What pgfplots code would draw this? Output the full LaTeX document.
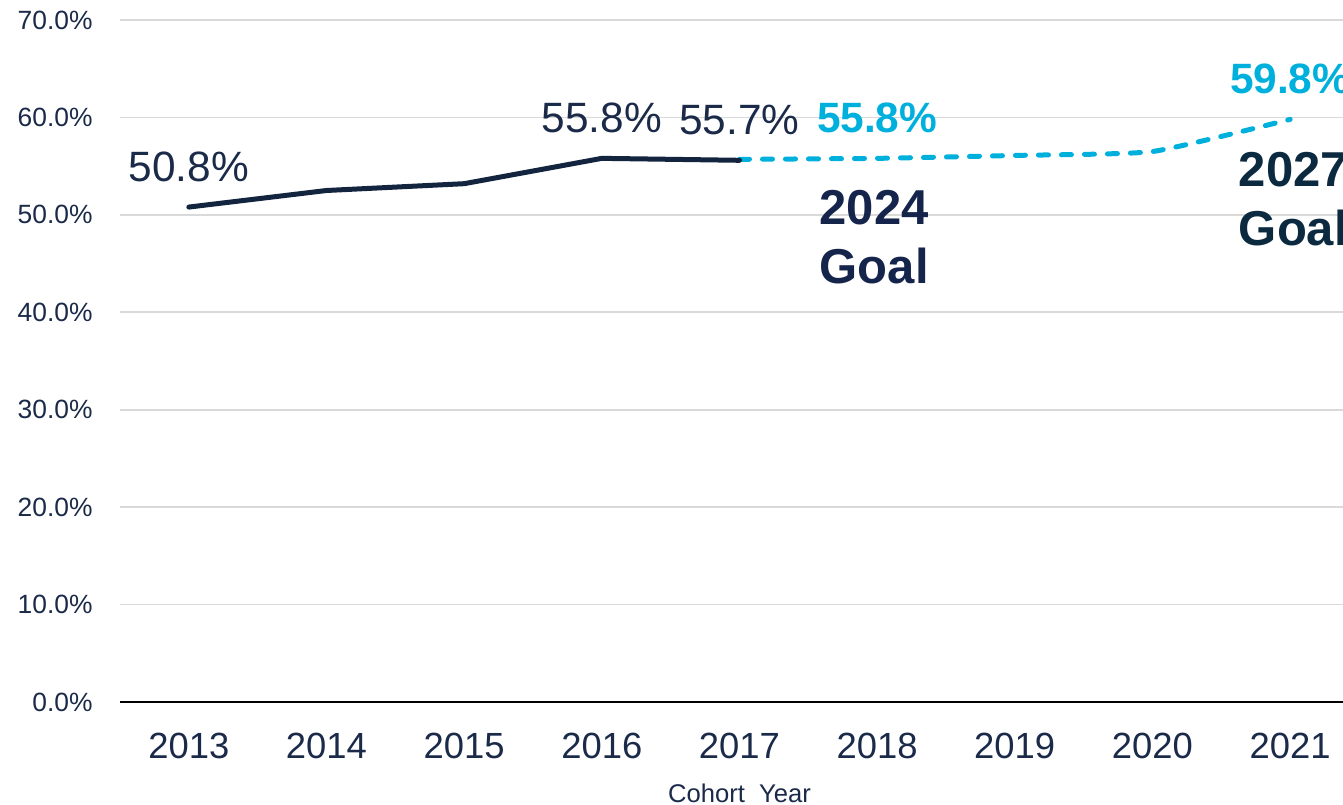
\documentclass[border=0pt]{standalone}
\usepackage{pgfplots}
\pgfplotsset{compat=1.18}
\usepackage{fontspec}
\setmainfont{Liberation Sans}
\definecolor{navy}{HTML}{13243F}
\definecolor{navytext}{HTML}{1A2A48}
\definecolor{goalA}{HTML}{15244A}
\definecolor{goalB}{HTML}{0C2A3F}
\definecolor{cyanl}{HTML}{00B0DC}
\definecolor{gridc}{HTML}{D9D9D9}
\begin{document}
\begin{tikzpicture}
\begin{axis}[
  scale only axis,
  width=619.5pt, height=341pt,
  xmin=2012.5, xmax=2021.5,
  ymin=0, ymax=70,
  xtick={2013,...,2021},
  xticklabels={2013,2014,2015,2016,2017,2018,2019,2020,2021},
  ytick={0,10,20,30,40,50,60,70},
  yticklabels={0.0\%,10.0\%,20.0\%,30.0\%,40.0\%,50.0\%,60.0\%,70.0\%},
  major tick length=0pt,
  axis x line*=bottom, axis y line*=left,
  y axis line style={draw=none},
  x axis line style={black, line width=1.25pt, -},
  ymajorgrids,
  grid style={gridc, line width=0.9pt},
  yticklabel style={anchor=east, inner sep=0pt, xshift=-13.5pt, text=navytext, font=\fontsize{13.2}{15}\selectfont},
  xticklabel style={anchor=north, inner sep=0pt, yshift=-15.5pt, text=navytext, font=\fontsize{18.2}{21}\selectfont},
  xlabel={Cohort\ \ Year},
  xlabel style={at={(axis description cs:0.5,0)}, anchor=center, yshift=-45.5pt, inner sep=0pt, text=navytext, font=\fontsize{12.8}{15}\selectfont},
  clip=false,
  point meta=explicit symbolic,
]
\addplot[cyanl, line width=2.5pt, line cap=round, dash pattern=on 5pt off 6.5pt, smooth, tension=0.3,
  nodes near coords, every node near coord/.append style={anchor=center, yshift=20pt, text=cyanl, font=\fontsize{21.2}{25}\selectfont\bfseries}]
  coordinates {(2017,55.7) [] (2018,55.8) [55.8\%] (2019,56.1) [] (2020,56.5) [] (2021,59.8) [59.8\%]};
\addplot[navy, line width=2.5pt, line cap=round, line join=round,
  nodes near coords, every node near coord/.append style={anchor=center, yshift=20pt, text=navytext, font=\fontsize{21.2}{25}\selectfont}]
  coordinates {(2013,50.8) [50.8\%] (2014,52.5) [] (2015,53.2) [] (2016,55.8) [55.8\%] (2017,55.6) [55.7\%]};
\node[anchor=north west, inner sep=0pt, align=left, text=goalA, font=\fontsize{24.5}{29.5}\selectfont\bfseries] at (axis cs:2017.58,52.55) {2024\\Goal};
\node[anchor=north west, inner sep=0pt, align=left, text=goalB, font=\fontsize{24.5}{29.5}\selectfont\bfseries] at (axis cs:2020.625,56.45) {2027\\Goal};
\end{axis}
\pgfresetboundingbox
\path (-60pt,-51pt) rectangle (611.5pt,351pt);
\end{tikzpicture}
\end{document}
